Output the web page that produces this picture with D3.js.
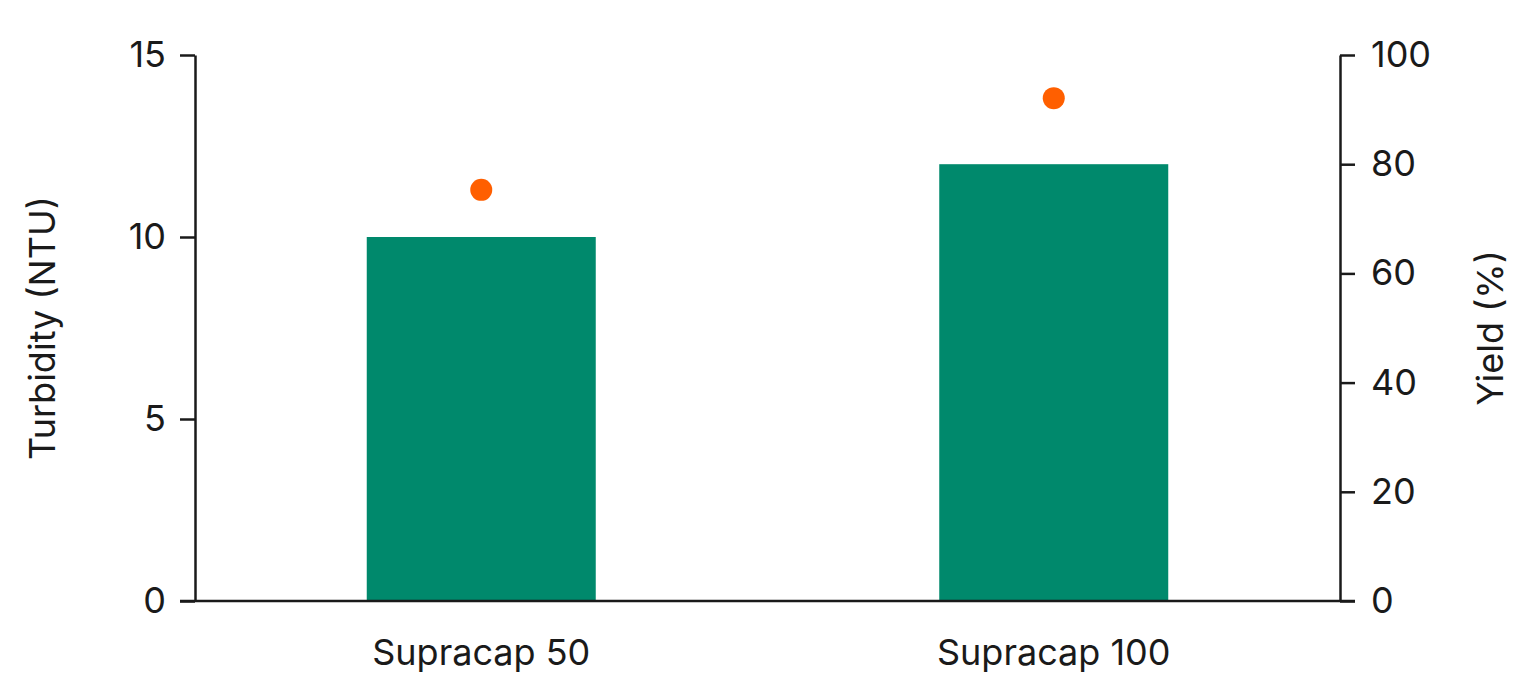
<!DOCTYPE html>
<html><head><meta charset="utf-8">
<script src="https://cdn.jsdelivr.net/npm/d3@7"></script>
<style>body{margin:0;background:#fff}text{font-family:Inter,"Noto Sans",sans-serif;fill:#1a1a1a}</style>
</head><body><svg id="chart"></svg>
<script>
const categories = ['Supracap 50', 'Supracap 100']
const turbidity = [10, 12]
const yieldPct = [75.3, 92.1]
const leftTicks = [0, 5, 10, 15]
const rightTicks = [0, 20, 40, 60, 80, 100]

const width = 1522, height = 690
const m = {left: 195, right: 182, top: 55, bottom: 89}
const svg = d3.select('#chart').attr('width', width).attr('height', height)

const x = d3.scaleBand().domain(categories).range([m.left, width - m.right]).paddingInner(0.6).paddingOuter(0.3)
const yL = d3.scaleLinear().domain([0, 15]).range([height - m.bottom, m.top])
const yR = d3.scaleLinear().domain([0, 100]).range([height - m.bottom, m.top])

svg.selectAll('.bar').data(categories).enter().append('rect')
  .attr('x', d => x(d)).attr('width', x.bandwidth())
  .attr('y', (d, i) => yL(turbidity[i])).attr('height', (d, i) => yL(0) - yL(turbidity[i]))
  .attr('fill', '#00896c')

svg.selectAll('.dot').data(categories).enter().append('circle')
  .attr('cx', d => x(d) + x.bandwidth() / 2).attr('cy', (d, i) => yR(yieldPct[i]))
  .attr('r', 11).attr('fill', '#ff5f00')

const styleAxis = g => {
  g.selectAll('path,line').attr('stroke', '#1a1a1a').attr('stroke-width', 2.5)
  g.selectAll('text').attr('font-size', 36).style('font-family', 'Inter, "Noto Sans", sans-serif').attr('fill', '#1a1a1a')
}
svg.append('g').attr('transform', `translate(${m.left},0)`)
  .call(d3.axisLeft(yL).tickValues(leftTicks).tickSize(15).tickSizeOuter(0).tickPadding(14))
  .call(styleAxis)
svg.append('g').attr('transform', `translate(${width - m.right},0)`)
  .call(d3.axisRight(yR).tickValues(rightTicks).tickSize(15).tickSizeOuter(0).tickPadding(16))
  .call(styleAxis)
svg.append('g').attr('transform', `translate(0,${height - m.bottom})`)
  .call(d3.axisBottom(x).tickSize(0).tickPadding(38))
  .call(styleAxis)
  .call(g => g.select('.domain').attr('d', `M${m.left - 15},0H${width - m.right + 15}`))

svg.append('text').attr('transform', `translate(55,${(m.top + height - m.bottom) / 2}) rotate(-90)`)
  .attr('text-anchor', 'middle').attr('font-size', 36).text('Turbidity (NTU)')
svg.append('text').attr('transform', `translate(1503,${(m.top + height - m.bottom) / 2}) rotate(-90)`)
  .attr('text-anchor', 'middle').attr('font-size', 36).text('Yield (%)')
</script></body></html>
